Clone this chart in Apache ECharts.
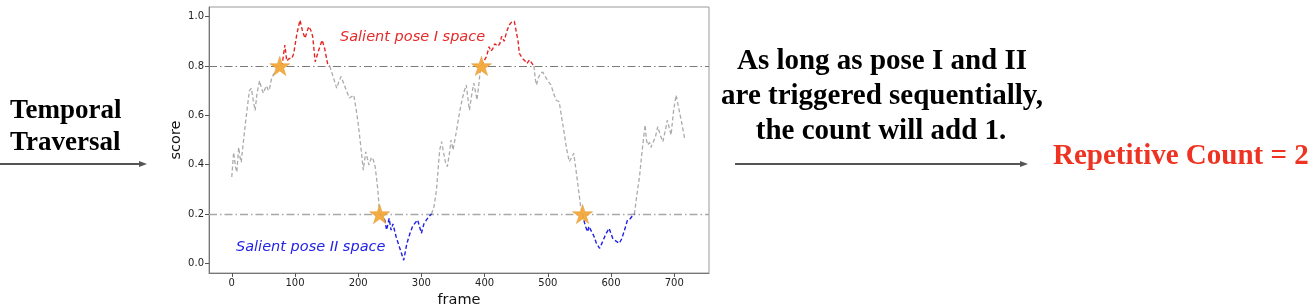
<!DOCTYPE html>
<html>
<head>
<meta charset="utf-8">
<script src="https://cdn.jsdelivr.net/npm/echarts@6/dist/echarts.min.js"></script>
<style>
html,body{margin:0;padding:0;background:#fff;}
#chart{width:1312px;height:306px;}
</style>
</head>
<body>
<div id="chart"></div>
<script>
// ---- data ----
const frames = [0,3,6,8,11,13,15,17,20,24,28,31,34,37,40,44,47,50,53,55,58,60,63,67,71,76,80,84,87,91,95,98,103,108,112,116,119,122,125,128,132,137,143,147,152,155,160,166,170,173,177,182,186,189,193,197,200,203,206,208,212,215,217,221,224,227,231,234,238,242,245,249,252,255,260,266,272,277,282,286,289,294,297,300,304,308,312,316,320,324,327,329,332,335,338,341,344,347,350,353,357,361,365,368,371,374,376,380,383,386,388,391,393,395,399,403,407,410,413,416,418,421,424,427,429,431,435,439,443,447,450,453,455,460,464,467,471,474,478,480,482,485,488,492,496,500,505,509,513,518,522,526,530,534,538,541,545,549,552,555,558,561,563,565,568,573,577,582,587,592,597,600,603,608,613,617,622,626,630,633,637,641,645,649,652,654,656,658,661,663,666,670,674,678,682,686,689,692,695,699,703,707,711,714,717];
const scores = [0.35,0.45,0.39,0.37,0.47,0.43,0.41,0.46,0.53,0.62,0.70,0.71,0.66,0.62,0.69,0.74,0.71,0.69,0.71,0.72,0.70,0.71,0.75,0.77,0.78,0.80,0.81,0.885,0.82,0.83,0.83,0.85,0.93,0.986,0.94,0.912,0.94,0.96,0.945,0.92,0.817,0.86,0.905,0.87,0.804,0.80,0.76,0.71,0.74,0.757,0.73,0.696,0.67,0.662,0.682,0.62,0.567,0.50,0.43,0.378,0.452,0.42,0.398,0.43,0.419,0.39,0.30,0.20,0.19,0.176,0.135,0.182,0.135,0.16,0.108,0.06,0.013,0.08,0.122,0.15,0.16,0.176,0.15,0.122,0.16,0.176,0.19,0.20,0.23,0.30,0.40,0.46,0.493,0.45,0.41,0.392,0.44,0.50,0.46,0.50,0.56,0.62,0.67,0.70,0.723,0.66,0.621,0.69,0.73,0.69,0.662,0.73,0.777,0.80,0.82,0.838,0.878,0.86,0.87,0.89,0.898,0.88,0.89,0.92,0.925,0.90,0.94,0.966,0.979,0.981,0.978,0.90,0.851,0.83,0.82,0.81,0.825,0.83,0.80,0.75,0.723,0.75,0.77,0.775,0.757,0.74,0.723,0.69,0.662,0.655,0.59,0.527,0.46,0.412,0.43,0.446,0.37,0.29,0.23,0.20,0.165,0.14,0.128,0.15,0.15,0.11,0.08,0.061,0.09,0.12,0.142,0.12,0.10,0.09,0.081,0.10,0.14,0.176,0.18,0.19,0.20,0.28,0.35,0.45,0.52,0.561,0.50,0.48,0.49,0.47,0.462,0.51,0.554,0.52,0.493,0.54,0.58,0.55,0.52,0.62,0.682,0.63,0.58,0.54,0.50];
const thresholdHigh = 0.8;   // salient pose I
const thresholdLow = 0.2;    // salient pose II
const triggerFrames = [76, 234, 395, 555];
const triggerScores = [0.8, 0.2, 0.8, 0.2];
const xTicks = [0,100,200,300,400,500,600,700];
const yTicks = [0.0,0.2,0.4,0.6,0.8,1.0];

// ---- build series ----
function pick(test){
  return frames.map((f,i)=> test(scores[i]) ? [f, scores[i]] : [f, '-']);
}
const grayData = pick(s => s >= thresholdLow && s <= thresholdHigh);
const redData = pick(s => s >= thresholdHigh);
const blueData = pick(s => s <= thresholdLow);
const starData = triggerFrames.map((f,i)=>[f, triggerScores[i]]);

const starPath = 'path://M50,0 L61.2,34.5 L97.6,34.5 L68.2,55.9 L79.4,90.5 L50,69.1 L20.6,90.5 L31.8,55.9 L2.4,34.5 L38.8,34.5 Z';

const chart = echarts.init(document.getElementById('chart'), null, {renderer:'canvas'});
const tickFont = {fontFamily:'DejaVu Sans', fontSize:10, color:'#222'};
chart.setOption({
  animation:false,
  backgroundColor:'#fff',
  grid:{left:209, right:603, top:7, bottom:33, outerBoundsMode:'none', containLabel:false, show:true, borderColor:'#999', borderWidth:1, backgroundColor:'#fff'},
  xAxis:{
    type:'value', min:-36, max:755,
    name:'frame', nameLocation:'middle', nameGap:16,
    nameTextStyle:{fontFamily:'DejaVu Sans', fontSize:14.5, color:'#111'},
    axisLine:{show:true, onZero:false, lineStyle:{color:'#777', width:1}},
    axisTick:{show:true, inside:false, length:4, lineStyle:{color:'#555'}, customValues:xTicks},
    axisLabel:Object.assign({margin:5, customValues:xTicks}, tickFont),
    splitLine:{show:false}
  },
  yAxis:{
    type:'value', min:-0.039, max:1.039,
    name:'score', nameLocation:'middle', nameGap:24, nameRotate:90,
    nameTextStyle:{fontFamily:'DejaVu Sans', fontSize:14.5, color:'#111'},
    axisLine:{show:true, onZero:false, lineStyle:{color:'#777', width:1}},
    axisTick:{show:true, inside:false, length:4, lineStyle:{color:'#555'}, customValues:yTicks},
    axisLabel:Object.assign({margin:5, customValues:yTicks, formatter:v=>v.toFixed(1)}, tickFont),
    splitLine:{show:false}
  },
  series:[
    {
      type:'line', data:grayData, showSymbol:false, connectNulls:false, z:2,
      lineStyle:{color:'#ababab', width:1.3, type:[4,2.5]},
      markLine:{
        silent:true, symbol:'none', label:{show:false}, z:1,
        data:[
          {yAxis:thresholdHigh, lineStyle:{color:'#7a7a7a', width:1, type:[8,3,1.5,3]}},
          {yAxis:thresholdLow, lineStyle:{color:'#a8a8a8', width:1.3, type:[8,3,1.5,3]}}
        ]
      }
    },
    {type:'line', data:redData, showSymbol:false, connectNulls:false, z:3,
      lineStyle:{color:'#e52525', width:1.4, type:[4,2.5]}},
    {type:'line', data:blueData, showSymbol:false, connectNulls:false, z:3,
      lineStyle:{color:'#1e1ee6', width:1.4, type:[4,2.5]}},
    {type:'scatter', data:starData, symbol:starPath, symbolSize:20, symbolKeepAspect:true, z:5,
      itemStyle:{color:'#f3a93a', opacity:0.95, borderColor:'#e0922a', borderWidth:0.5}}
  ],
  graphic:[
    {type:'text', z:10, style:{text:'Salient pose I space', x:340, y:37, fill:'#e52a2a', font:'italic 14.5px "DejaVu Sans"', verticalAlign:'middle', align:'left'}},
    {type:'text', z:10, style:{text:'Salient pose II space', x:236, y:247, fill:'#2323e6', font:'italic 14.5px "DejaVu Sans"', verticalAlign:'middle', align:'left'}},
    {type:'text', style:{text:'Temporal', x:10, y:111, fill:'#000', font:'bold 27px "Liberation Serif"', verticalAlign:'middle', align:'left'}},
    {type:'text', style:{text:'Traversal', x:10, y:143, fill:'#000', font:'bold 27px "Liberation Serif"', verticalAlign:'middle', align:'left'}},
    {type:'line', shape:{x1:0, y1:164, x2:141, y2:164}, style:{stroke:'#555', lineWidth:2}},
    {type:'polygon', shape:{points:[[147,164],[139,161],[139,167]]}, style:{fill:'#555'}},
    {type:'text', style:{text:'As long as pose I and II', x:882, y:62, fill:'#000', font:'bold 29px "Liberation Serif"', verticalAlign:'middle', align:'center'}},
    {type:'text', style:{text:'are triggered sequentially,', x:882, y:97, fill:'#000', font:'bold 29px "Liberation Serif"', verticalAlign:'middle', align:'center'}},
    {type:'text', style:{text:'the count will add 1.', x:881, y:132, fill:'#000', font:'bold 29px "Liberation Serif"', verticalAlign:'middle', align:'center'}},
    {type:'line', shape:{x1:735, y1:164, x2:1022, y2:164}, style:{stroke:'#555', lineWidth:2}},
    {type:'polygon', shape:{points:[[1028,164],[1020,161],[1020,167]]}, style:{fill:'#555'}},
    {type:'text', style:{text:'Repetitive Count = 2', x:1053, y:157, fill:'#ee3322', font:'bold 29px "Liberation Serif"', verticalAlign:'middle', align:'left'}}
  ]
});
</script>
</body>
</html>
